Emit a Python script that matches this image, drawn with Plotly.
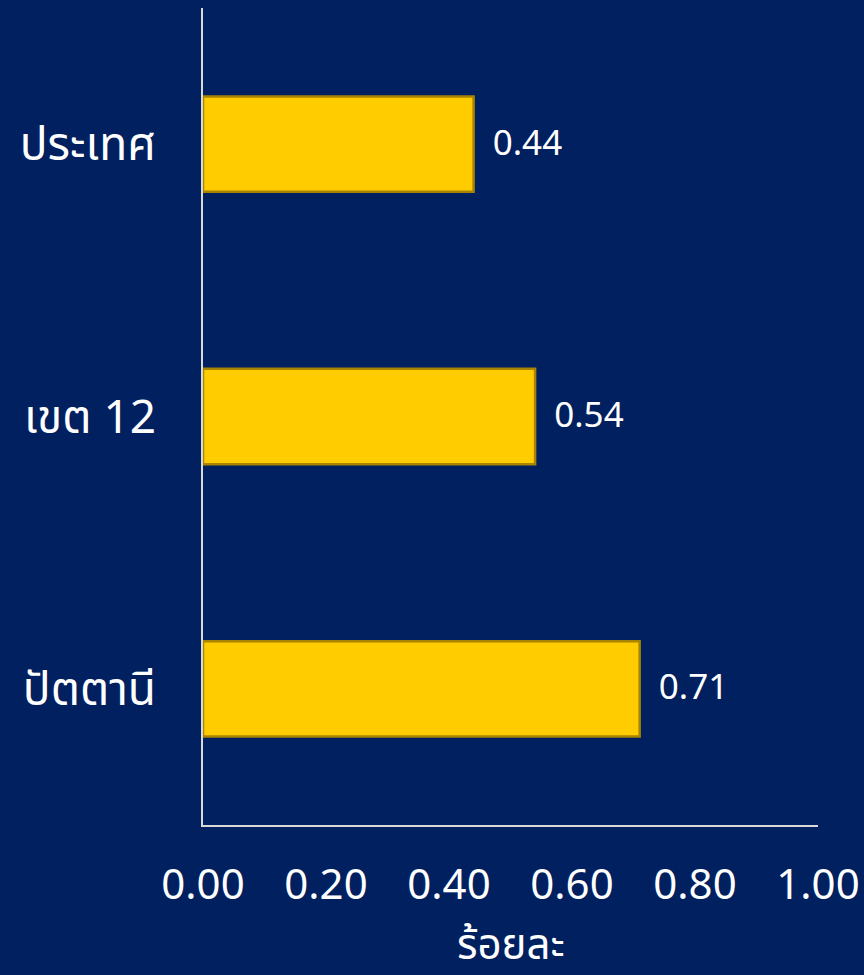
import plotly.graph_objects as go

categories = ["ประเทศ", "เขต 12", "ปัตตานี"]
values = [0.44, 0.54, 0.71]
tick_vals = [0.0, 0.2, 0.4, 0.6, 0.8, 1.0]
tick_text = ["0.00", "0.20", "0.40", "0.60", "0.80", "1.00"]
x_title = "ร้อยละ"

BG = "#00205F"
BAR = "#FFCC00"
EDGE = "#A88400"
FONT = "Noto Sans Thai, Noto Sans, Roboto, sans-serif"

fig = go.Figure()
fig.add_trace(go.Bar(
    y=categories, x=values, orientation="h",
    width=0.35,
    marker=dict(color=BAR, line=dict(color=EDGE, width=2.5)),
    text=[" \u2009" + f"{v:.2f}" for v in values],
    textposition="outside",
    textfont=dict(color="white", size=35, family=FONT),
    cliponaxis=False,
))

fig.add_annotation(
    text=x_title, xref="paper", yref="paper", x=0.5, y=0,
    xanchor="center", yanchor="middle", yshift=-121, showarrow=False,
    font=dict(size=42, color="white", family=FONT),
)

fig.update_layout(
    width=864, height=975,
    paper_bgcolor=BG, plot_bgcolor=BG,
    margin=dict(l=203, r=46, t=8, b=150, autoexpand=False),
    showlegend=False,
    font=dict(family=FONT, color="white"),
    xaxis=dict(
        range=[0, 1.0], tickvals=tick_vals, ticktext=tick_text,
        showgrid=False, zeroline=False, automargin=False,
        showline=True, linecolor="#D9D9D9", linewidth=1.5,
        tickfont=dict(size=42, color="white", family=FONT),
        ticklabelstandoff=22, ticklabeloverflow="allow",
    ),
    yaxis=dict(
        autorange=False, range=[2.5, -0.5],
        categoryorder="array", categoryarray=categories,
        showgrid=False, zeroline=False, automargin=False,
        showline=True, linecolor="#D9D9D9", linewidth=1.5,
        tickfont=dict(size=46, color="white", family=FONT),
        ticklabelstandoff=36, ticklabeloverflow="allow",
    ),
)

fig.write_html(
    "out.html",
    config={"displayModeBar": False},
    post_script="document.body.style.margin='0';document.body.style.background='" + BG + "';",
)
